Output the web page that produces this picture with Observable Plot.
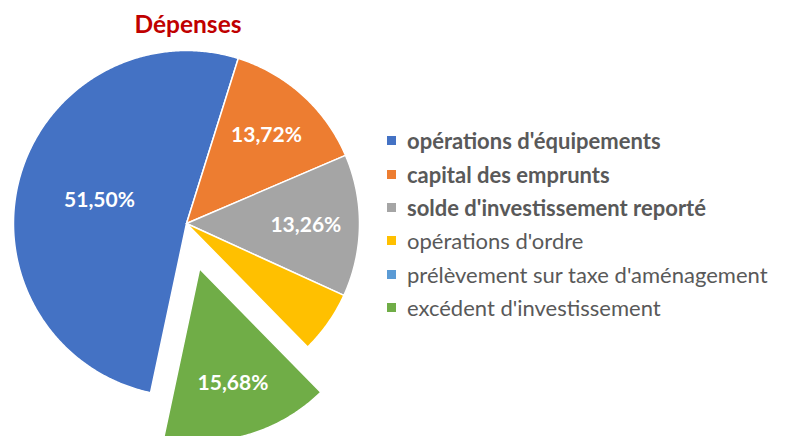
<!DOCTYPE html>
<html>
<head>
<meta charset="utf-8">
<script src="https://cdn.jsdelivr.net/npm/d3@7"></script>
<script src="https://cdn.jsdelivr.net/npm/@observablehq/plot@0.6"></script>
<style>
  html, body { margin: 0; padding: 0; background: #fff; }
  #wrap { position: relative; width: 786px; height: 436px; overflow: hidden; font-family: Lato, "Open Sans", sans-serif; }
  #chart { position: absolute; left: 0; top: 0; }
  #title { position: absolute; left: 88px; width: 200px; top: 9px; text-align: center; font-size: 24.5px; font-weight: bold; color: #C00000; line-height: 30px; }
  #legend { position: absolute; left: 387px; top: 124px; }
  .row { display: flex; align-items: center; height: 33.4px; font-size: 22px; color: #595959; white-space: nowrap; }
  .sw { width: 9px; height: 9px; margin-right: 11px; flex: none; }
</style>
</head>
<body>
<div id="wrap">
  <div id="chart"></div>
  <div id="title">Dépenses</div>
  <div id="legend"></div>
</div>
<script>
// ---- data ----
const categories = [
  "opérations d'équipements",
  "capital des emprunts",
  "solde d'investissement reporté",
  "opérations d'ordre",
  "prélèvement sur taxe d'aménagement",
  "excédent d'investissement"
];
const shares = [51.50, 13.72, 13.26, 5.84, 0, 15.68];
const colors = ["#4472C4", "#ED7D31", "#A5A5A5", "#FFC000", "#5B9BD5", "#70AD47"];
const explodedCategory = "excédent d'investissement";
const title = "Dépenses";

// ---- styling / geometry ----
const boldLegendCount = 3;
const startAngle = 192;   // degrees clockwise from 12 o'clock (first slice)
const explodeFrac = 0.272;
const CX = 186, CY = 223, R = 173;

const rad = d => d * Math.PI / 180;
const fmt = v => d3.format(".2f")(v).replace(".", ",") + "%";

// build slices
let a = startAngle;
const slices = categories.map((name, i) => {
  const a0 = a, a1 = a + shares[i] / 100 * 360;
  a = a1;
  const mid = (a0 + a1) / 2;
  const off = name === explodedCategory ? explodeFrac : 0;
  return {name, share: shares[i], a0, a1, mid, ox: off * Math.sin(rad(mid)), oy: off * Math.cos(rad(mid))};
});

const pts = [];
for (const s of slices) {
  if (s.share <= 0) continue;
  pts.push({name: s.name, x: s.ox, y: s.oy});
  const n = Math.max(2, Math.ceil((s.a1 - s.a0) / 0.5));
  for (let k = 0; k <= n; k++) {
    const t = rad(s.a0 + (s.a1 - s.a0) * k / n);
    pts.push({name: s.name, x: s.ox + Math.sin(t), y: s.oy + Math.cos(t)});
  }
  pts.push({name: s.name, x: s.ox, y: s.oy});
}

const labels = slices.filter(s => s.share >= 10).map(s => {
  const f = s.share > 50 ? 0.52 : 0.69;
  return {text: fmt(s.share), x: s.ox + f * Math.sin(rad(s.mid)), y: s.oy + f * Math.cos(rad(s.mid))};
});

const plot = Plot.plot({
  width: 786,
  height: 436,
  margin: 0,
  x: {domain: [-1, 1], range: [CX - R, CX + R], axis: null},
  y: {domain: [-1, 1], range: [CY + R, CY - R], axis: null},
  color: {domain: categories, range: colors},
  style: {background: "transparent", overflow: "hidden"},
  marks: [
    Plot.line(pts, {x: "x", y: "y", z: "name", fill: "name", stroke: "white", strokeWidth: 1.5, curve: "linear", clip: false}),
    Plot.text(labels, {x: "x", y: "y", text: "text", fill: "white", fontWeight: "bold", fontSize: 21, fontFamily: "Lato, 'Open Sans', sans-serif"})
  ]
});
document.getElementById("chart").appendChild(plot);

document.getElementById("title").textContent = title;
const legend = document.getElementById("legend");
categories.forEach((c, i) => {
  const row = document.createElement("div");
  row.className = "row";
  const sw = document.createElement("span");
  sw.className = "sw";
  sw.style.background = colors[i];
  const tx = document.createElement("span");
  tx.textContent = c;
  if (i < boldLegendCount) tx.style.fontWeight = "bold";
  row.appendChild(sw);
  row.appendChild(tx);
  legend.appendChild(row);
});
</script>
</body>
</html>
